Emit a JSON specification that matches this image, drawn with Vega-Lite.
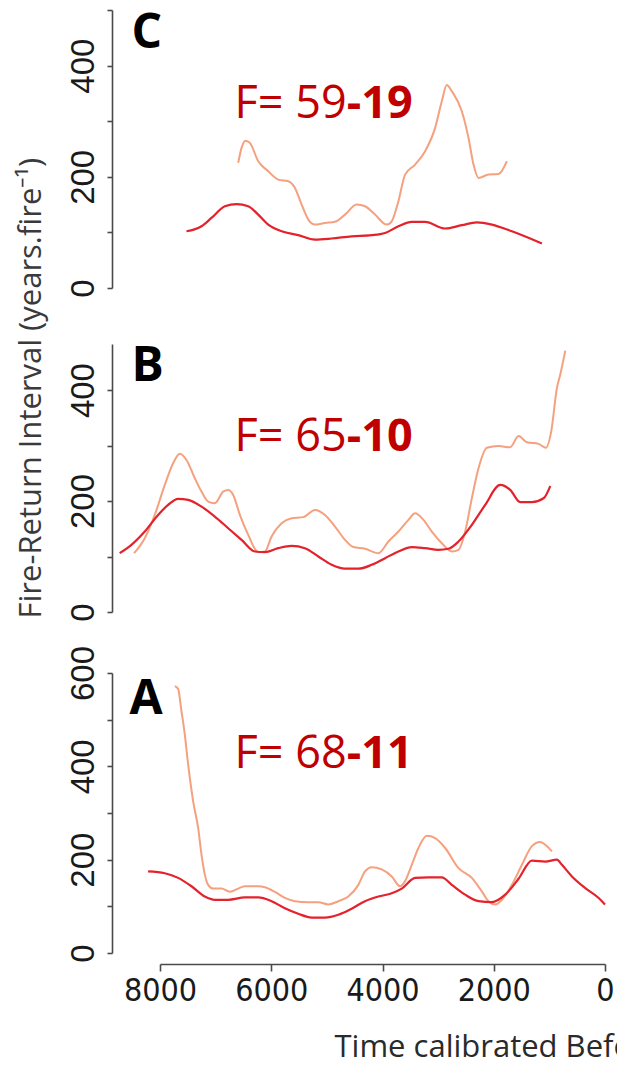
{
  "$schema": "https://vega.github.io/schema/vega-lite/v6.json",
  "background": "white",
  "padding": {"left": 15, "top": 9, "right": 0, "bottom": 0},
  "config": {
    "view": {"stroke": null},
    "axis": {"grid": false, "domainColor": "#4a4a4a", "domainWidth": 1.6, "tickColor": "#4a4a4a", "tickWidth": 1.6, "labelColor": "#1a1a1a", "labelOverlap": false, "labelFlush": false},
    "axisY": {"offset": 48, "tickSize": 5, "labelAngle": 270, "labelAlign": "center", "labelBaseline": "alphabetic", "labelPadding": 14, "labelFont": "Liberation Sans", "labelFontSize": 33, "titleFont": "Open Sans", "titleFontSize": 31, "titleFontWeight": "normal", "titleColor": "#3a3a3a"},
    "axisX": {"offset": 11, "tickSize": 7, "format": "d", "labelFont": "Liberation Sans Narrow, DejaVu Sans Condensed, Liberation Sans", "labelFontSize": 32, "labelPadding": 4, "titleFont": "Open Sans", "titleFontSize": 31, "titleFontWeight": "normal", "titleColor": "#2a2a2a"}
  },
  "datasets": {
    "curves": [
      {"p":"C","s":"mean","year":7524,"fri":102},{"p":"C","s":"mean","year":7254,"fri":111},{"p":"C","s":"mean","year":7074,"fri":126},{"p":"C","s":"mean","year":6834,"fri":147},{"p":"C","s":"mean","year":6624,"fri":151},{"p":"C","s":"mean","year":6414,"fri":147},{"p":"C","s":"mean","year":6234,"fri":132},{"p":"C","s":"mean","year":6054,"fri":114},{"p":"C","s":"mean","year":5814,"fri":102},{"p":"C","s":"mean","year":5514,"fri":95},{"p":"C","s":"mean","year":5214,"fri":87},{"p":"C","s":"mean","year":4914,"fri":89},{"p":"C","s":"mean","year":4554,"fri":93},{"p":"C","s":"mean","year":4194,"fri":95},{"p":"C","s":"mean","year":3954,"fri":99},{"p":"C","s":"mean","year":3714,"fri":111},{"p":"C","s":"mean","year":3474,"fri":119},{"p":"C","s":"mean","year":3234,"fri":119},{"p":"C","s":"mean","year":2874,"fri":107},{"p":"C","s":"mean","year":2574,"fri":113},{"p":"C","s":"mean","year":2304,"fri":118},{"p":"C","s":"mean","year":2034,"fri":114},{"p":"C","s":"mean","year":1674,"fri":102},{"p":"C","s":"mean","year":1134,"fri":80},
      {"p":"C","s":"freq","year":6594,"fri":225},{"p":"C","s":"freq","year":6534,"fri":252},{"p":"C","s":"freq","year":6462,"fri":265},{"p":"C","s":"freq","year":6384,"fri":261},{"p":"C","s":"freq","year":6234,"fri":228},{"p":"C","s":"freq","year":6054,"fri":210},{"p":"C","s":"freq","year":5874,"fri":195},{"p":"C","s":"freq","year":5694,"fri":192},{"p":"C","s":"freq","year":5574,"fri":180},{"p":"C","s":"freq","year":5454,"fri":150},{"p":"C","s":"freq","year":5334,"fri":123},{"p":"C","s":"freq","year":5214,"fri":114},{"p":"C","s":"freq","year":5034,"fri":117},{"p":"C","s":"freq","year":4854,"fri":119},{"p":"C","s":"freq","year":4674,"fri":132},{"p":"C","s":"freq","year":4464,"fri":150},{"p":"C","s":"freq","year":4314,"fri":147},{"p":"C","s":"freq","year":4134,"fri":132},{"p":"C","s":"freq","year":3924,"fri":114},{"p":"C","s":"freq","year":3834,"fri":120},{"p":"C","s":"freq","year":3714,"fri":156},{"p":"C","s":"freq","year":3594,"fri":204},{"p":"C","s":"freq","year":3414,"fri":222},{"p":"C","s":"freq","year":3234,"fri":246},{"p":"C","s":"freq","year":3054,"fri":288},{"p":"C","s":"freq","year":2934,"fri":336},{"p":"C","s":"freq","year":2844,"fri":365},{"p":"C","s":"freq","year":2754,"fri":354},{"p":"C","s":"freq","year":2574,"fri":318},{"p":"C","s":"freq","year":2454,"fri":270},{"p":"C","s":"freq","year":2364,"fri":222},{"p":"C","s":"freq","year":2274,"fri":198},{"p":"C","s":"freq","year":2094,"fri":204},{"p":"C","s":"freq","year":1914,"fri":205},{"p":"C","s":"freq","year":1764,"fri":228},
      {"p":"B","s":"mean","year":8725,"fri":106},{"p":"B","s":"mean","year":8514,"fri":121},{"p":"B","s":"mean","year":8274,"fri":145},{"p":"B","s":"mean","year":8034,"fri":175},{"p":"B","s":"mean","year":7854,"fri":193},{"p":"B","s":"mean","year":7674,"fri":204},{"p":"B","s":"mean","year":7494,"fri":202},{"p":"B","s":"mean","year":7254,"fri":190},{"p":"B","s":"mean","year":7014,"fri":172},{"p":"B","s":"mean","year":6774,"fri":151},{"p":"B","s":"mean","year":6534,"fri":130},{"p":"B","s":"mean","year":6294,"fri":109},{"p":"B","s":"mean","year":6114,"fri":108},{"p":"B","s":"mean","year":5874,"fri":115},{"p":"B","s":"mean","year":5634,"fri":119},{"p":"B","s":"mean","year":5394,"fri":115},{"p":"B","s":"mean","year":5154,"fri":100},{"p":"B","s":"mean","year":4914,"fri":85},{"p":"B","s":"mean","year":4674,"fri":78},{"p":"B","s":"mean","year":4434,"fri":78},{"p":"B","s":"mean","year":4194,"fri":85},{"p":"B","s":"mean","year":3954,"fri":97},{"p":"B","s":"mean","year":3714,"fri":109},{"p":"B","s":"mean","year":3474,"fri":117},{"p":"B","s":"mean","year":3234,"fri":115},{"p":"B","s":"mean","year":2994,"fri":112},{"p":"B","s":"mean","year":2814,"fri":114},{"p":"B","s":"mean","year":2634,"fri":127},{"p":"B","s":"mean","year":2394,"fri":157},{"p":"B","s":"mean","year":2154,"fri":193},{"p":"B","s":"mean","year":1884,"fri":229},{"p":"B","s":"mean","year":1704,"fri":220},{"p":"B","s":"mean","year":1524,"fri":198},{"p":"B","s":"mean","year":1314,"fri":198},{"p":"B","s":"mean","year":1104,"fri":205},{"p":"B","s":"mean","year":984,"fri":227},
      {"p":"B","s":"freq","year":8466,"fri":106},{"p":"B","s":"freq","year":8274,"fri":133},{"p":"B","s":"freq","year":8094,"fri":175},{"p":"B","s":"freq","year":7914,"fri":229},{"p":"B","s":"freq","year":7764,"fri":268},{"p":"B","s":"freq","year":7644,"fri":285},{"p":"B","s":"freq","year":7524,"fri":274},{"p":"B","s":"freq","year":7374,"fri":241},{"p":"B","s":"freq","year":7254,"fri":217},{"p":"B","s":"freq","year":7134,"fri":199},{"p":"B","s":"freq","year":7014,"fri":196},{"p":"B","s":"freq","year":6864,"fri":217},{"p":"B","s":"freq","year":6774,"fri":220},{"p":"B","s":"freq","year":6684,"fri":211},{"p":"B","s":"freq","year":6564,"fri":175},{"p":"B","s":"freq","year":6414,"fri":139},{"p":"B","s":"freq","year":6234,"fri":108},{"p":"B","s":"freq","year":6114,"fri":109},{"p":"B","s":"freq","year":5994,"fri":136},{"p":"B","s":"freq","year":5814,"fri":160},{"p":"B","s":"freq","year":5634,"fri":169},{"p":"B","s":"freq","year":5424,"fri":171},{"p":"B","s":"freq","year":5214,"fri":184},{"p":"B","s":"freq","year":5034,"fri":175},{"p":"B","s":"freq","year":4854,"fri":154},{"p":"B","s":"freq","year":4674,"fri":130},{"p":"B","s":"freq","year":4524,"fri":117},{"p":"B","s":"freq","year":4314,"fri":114},{"p":"B","s":"freq","year":4074,"fri":106},{"p":"B","s":"freq","year":3894,"fri":127},{"p":"B","s":"freq","year":3714,"fri":145},{"p":"B","s":"freq","year":3534,"fri":166},{"p":"B","s":"freq","year":3414,"fri":178},{"p":"B","s":"freq","year":3264,"fri":166},{"p":"B","s":"freq","year":3114,"fri":145},{"p":"B","s":"freq","year":2934,"fri":124},{"p":"B","s":"freq","year":2754,"fri":109},{"p":"B","s":"freq","year":2634,"fri":112},{"p":"B","s":"freq","year":2514,"fri":145},{"p":"B","s":"freq","year":2394,"fri":205},{"p":"B","s":"freq","year":2274,"fri":259},{"p":"B","s":"freq","year":2124,"fri":296},{"p":"B","s":"freq","year":1914,"fri":299},{"p":"B","s":"freq","year":1704,"fri":297},{"p":"B","s":"freq","year":1554,"fri":317},{"p":"B","s":"freq","year":1404,"fri":306},{"p":"B","s":"freq","year":1194,"fri":303},{"p":"B","s":"freq","year":1062,"fri":296},{"p":"B","s":"freq","year":966,"fri":326},{"p":"B","s":"freq","year":864,"fri":404},{"p":"B","s":"freq","year":804,"fri":428},{"p":"B","s":"freq","year":714,"fri":471},
      {"p":"A","s":"mean","year":8214,"fri":175},{"p":"A","s":"mean","year":7914,"fri":171},{"p":"A","s":"mean","year":7674,"fri":161},{"p":"A","s":"mean","year":7434,"fri":143},{"p":"A","s":"mean","year":7194,"fri":121},{"p":"A","s":"mean","year":7014,"fri":114},{"p":"A","s":"mean","year":6774,"fri":114},{"p":"A","s":"mean","year":6474,"fri":119},{"p":"A","s":"mean","year":6234,"fri":119},{"p":"A","s":"mean","year":5994,"fri":111},{"p":"A","s":"mean","year":5754,"fri":96},{"p":"A","s":"mean","year":5514,"fri":84},{"p":"A","s":"mean","year":5274,"fri":76},{"p":"A","s":"mean","year":5034,"fri":76},{"p":"A","s":"mean","year":4794,"fri":82},{"p":"A","s":"mean","year":4554,"fri":95},{"p":"A","s":"mean","year":4314,"fri":111},{"p":"A","s":"mean","year":4074,"fri":121},{"p":"A","s":"mean","year":3834,"fri":128},{"p":"A","s":"mean","year":3654,"fri":138},{"p":"A","s":"mean","year":3414,"fri":161},{"p":"A","s":"mean","year":3174,"fri":162},{"p":"A","s":"mean","year":2934,"fri":162},{"p":"A","s":"mean","year":2754,"fri":146},{"p":"A","s":"mean","year":2514,"fri":125},{"p":"A","s":"mean","year":2274,"fri":111},{"p":"A","s":"mean","year":2034,"fri":109},{"p":"A","s":"mean","year":1794,"fri":125},{"p":"A","s":"mean","year":1554,"fri":159},{"p":"A","s":"mean","year":1314,"fri":198},{"p":"A","s":"mean","year":1074,"fri":196},{"p":"A","s":"mean","year":864,"fri":200},{"p":"A","s":"mean","year":774,"fri":189},{"p":"A","s":"mean","year":594,"fri":164},{"p":"A","s":"mean","year":354,"fri":139},{"p":"A","s":"mean","year":114,"fri":118},{"p":"A","s":"mean","year":0,"fri":104},
      {"p":"A","s":"freq","year":7734,"fri":572},{"p":"A","s":"freq","year":7674,"fri":566},{"p":"A","s":"freq","year":7614,"fri":518},{"p":"A","s":"freq","year":7554,"fri":468},{"p":"A","s":"freq","year":7494,"fri":404},{"p":"A","s":"freq","year":7404,"fri":325},{"p":"A","s":"freq","year":7314,"fri":268},{"p":"A","s":"freq","year":7254,"fri":211},{"p":"A","s":"freq","year":7194,"fri":168},{"p":"A","s":"freq","year":7134,"fri":146},{"p":"A","s":"freq","year":7044,"fri":138},{"p":"A","s":"freq","year":6894,"fri":138},{"p":"A","s":"freq","year":6744,"fri":131},{"p":"A","s":"freq","year":6594,"fri":138},{"p":"A","s":"freq","year":6474,"fri":143},{"p":"A","s":"freq","year":6234,"fri":143},{"p":"A","s":"freq","year":6114,"fri":141},{"p":"A","s":"freq","year":5934,"fri":131},{"p":"A","s":"freq","year":5754,"fri":118},{"p":"A","s":"freq","year":5574,"fri":111},{"p":"A","s":"freq","year":5334,"fri":109},{"p":"A","s":"freq","year":5154,"fri":109},{"p":"A","s":"freq","year":4974,"fri":104},{"p":"A","s":"freq","year":4794,"fri":111},{"p":"A","s":"freq","year":4614,"fri":121},{"p":"A","s":"freq","year":4434,"fri":146},{"p":"A","s":"freq","year":4314,"fri":175},{"p":"A","s":"freq","year":4194,"fri":184},{"p":"A","s":"freq","year":4014,"fri":179},{"p":"A","s":"freq","year":3834,"fri":164},{"p":"A","s":"freq","year":3684,"fri":143},{"p":"A","s":"freq","year":3594,"fri":154},{"p":"A","s":"freq","year":3474,"fri":189},{"p":"A","s":"freq","year":3354,"fri":225},{"p":"A","s":"freq","year":3204,"fri":251},{"p":"A","s":"freq","year":3054,"fri":246},{"p":"A","s":"freq","year":2874,"fri":225},{"p":"A","s":"freq","year":2634,"fri":182},{"p":"A","s":"freq","year":2394,"fri":161},{"p":"A","s":"freq","year":2214,"fri":132},{"p":"A","s":"freq","year":2094,"fri":111},{"p":"A","s":"freq","year":1974,"fri":104},{"p":"A","s":"freq","year":1854,"fri":114},{"p":"A","s":"freq","year":1674,"fri":146},{"p":"A","s":"freq","year":1494,"fri":189},{"p":"A","s":"freq","year":1314,"fri":229},{"p":"A","s":"freq","year":1164,"fri":238},{"p":"A","s":"freq","year":1074,"fri":232},{"p":"A","s":"freq","year":954,"fri":218}
    ],
    "notes": [
      {"p":"C","kind":"letter","year":8514,"fri":432,"text":"C"},
      {"p":"B","kind":"letter","year":8514,"fri":416,"text":"B"},
      {"p":"A","kind":"letter","year":8550,"fri":512,"text":"A"},
      {"p":"C","kind":"fnorm","year":4644,"fri":306,"text":"F= 59"},
      {"p":"B","kind":"fnorm","year":4644,"fri":290,"text":"F= 65"},
      {"p":"A","kind":"fnorm","year":4644,"fri":396,"text":"F= 68"},
      {"p":"C","kind":"fbold","year":4644,"fri":306,"text":"-19"},
      {"p":"B","kind":"fbold","year":4644,"fri":290,"text":"-10"},
      {"p":"A","kind":"fbold","year":4644,"fri":396,"text":"-11"}
    ]
  },
  "spacing": 56,
  "bounds": "flush",
  "vconcat": [
    {
      "width": 445, "height": 278,
      "encoding": {
        "x": {"field": "year", "type": "quantitative", "scale": {"domain": [0, 8000], "reverse": true, "nice": false, "zero": false}, "axis": null},
        "y": {"field": "fri", "type": "quantitative", "scale": {"domain": [0, 500], "nice": false}, "axis": {"values": [0, 100, 200, 300, 400, 500], "labelExpr": "datum.value % 200 === 0 ? datum.label : ''", "title": null}}
      },
      "layer": [
        {"data": {"name": "curves"}, "transform": [{"filter": "datum.p === 'C' && datum.s === 'freq'"}], "mark": {"type": "line", "interpolate": "monotone", "color": "#f5a07e", "strokeWidth": 2}, "encoding": {"order": {"field": "year", "sort": "descending"}}},
        {"data": {"name": "curves"}, "transform": [{"filter": "datum.p === 'C' && datum.s === 'mean'"}], "mark": {"type": "line", "interpolate": "monotone", "color": "#e3222b", "strokeWidth": 2.2}, "encoding": {"order": {"field": "year", "sort": "descending"}}},
        {"data": {"name": "notes"}, "transform": [{"filter": "datum.p === 'C' && datum.kind === 'letter'"}], "mark": {"type": "text", "align": "left", "baseline": "alphabetic", "font": "Open Sans", "fontSize": 48, "fontWeight": "bold", "color": "#000"}, "encoding": {"text": {"field": "text"}}},
        {"data": {"name": "notes"}, "transform": [{"filter": "datum.p === 'C' && datum.kind === 'fnorm'"}], "mark": {"type": "text", "align": "right", "baseline": "alphabetic", "font": "Open Sans", "fontSize": 45, "color": "#c00000"}, "encoding": {"text": {"field": "text"}}},
        {"data": {"name": "notes"}, "transform": [{"filter": "datum.p === 'C' && datum.kind === 'fbold'"}], "mark": {"type": "text", "align": "left", "baseline": "alphabetic", "font": "Open Sans", "fontSize": 45, "fontWeight": "bold", "color": "#c00000"}, "encoding": {"text": {"field": "text"}}}
      ]
    },
    {
      "spacing": 61,
      "bounds": "flush",
      "vconcat": [
        {
          "width": 445, "height": 268,
          "encoding": {
            "x": {"field": "year", "type": "quantitative", "scale": {"domain": [0, 8000], "reverse": true, "nice": false, "zero": false}, "axis": null},
            "y": {"field": "fri", "type": "quantitative", "scale": {"domain": [0, 483], "nice": false}, "axis": {"values": [0, 100, 200, 300, 400], "labelExpr": "datum.value % 200 === 0 ? datum.label : ''", "title": "Fire-Return Interval (years.fire⁻¹)", "titleY": 274, "titleAlign": "left", "titleBaseline": "alphabetic", "titlePadding": 27}}
          },
          "layer": [
            {"data": {"name": "curves"}, "transform": [{"filter": "datum.p === 'B' && datum.s === 'freq'"}], "mark": {"type": "line", "interpolate": "monotone", "color": "#f5a07e", "strokeWidth": 2}, "encoding": {"order": {"field": "year", "sort": "descending"}}},
            {"data": {"name": "curves"}, "transform": [{"filter": "datum.p === 'B' && datum.s === 'mean'"}], "mark": {"type": "line", "interpolate": "monotone", "color": "#e3222b", "strokeWidth": 2.2}, "encoding": {"order": {"field": "year", "sort": "descending"}}},
            {"data": {"name": "notes"}, "transform": [{"filter": "datum.p === 'B' && datum.kind === 'letter'"}], "mark": {"type": "text", "align": "left", "baseline": "alphabetic", "font": "Open Sans", "fontSize": 48, "fontWeight": "bold", "color": "#000"}, "encoding": {"text": {"field": "text"}}},
            {"data": {"name": "notes"}, "transform": [{"filter": "datum.p === 'B' && datum.kind === 'fnorm'"}], "mark": {"type": "text", "align": "right", "baseline": "alphabetic", "font": "Open Sans", "fontSize": 45, "color": "#c00000"}, "encoding": {"text": {"field": "text"}}},
            {"data": {"name": "notes"}, "transform": [{"filter": "datum.p === 'B' && datum.kind === 'fbold'"}], "mark": {"type": "text", "align": "left", "baseline": "alphabetic", "font": "Open Sans", "fontSize": 45, "fontWeight": "bold", "color": "#c00000"}, "encoding": {"text": {"field": "text"}}}
          ]
        },
        {
          "width": 445, "height": 280,
          "encoding": {
            "x": {"field": "year", "type": "quantitative", "scale": {"domain": [0, 8000], "reverse": true, "nice": false, "zero": false}, "axis": {"values": [0, 2000, 4000, 6000, 8000], "title": "Time calibrated Before Present (years)", "titleX": 174, "titleAlign": "left", "titleBaseline": "alphabetic", "titlePadding": 50}},
            "y": {"field": "fri", "type": "quantitative", "scale": {"domain": [0, 600], "nice": false}, "axis": {"values": [0, 100, 200, 300, 400, 500, 600], "labelExpr": "datum.value % 200 === 0 ? datum.label : ''", "title": null}}
          },
          "layer": [
            {"data": {"name": "curves"}, "transform": [{"filter": "datum.p === 'A' && datum.s === 'freq'"}], "mark": {"type": "line", "interpolate": "monotone", "color": "#f5a07e", "strokeWidth": 2}, "encoding": {"order": {"field": "year", "sort": "descending"}}},
            {"data": {"name": "curves"}, "transform": [{"filter": "datum.p === 'A' && datum.s === 'mean'"}], "mark": {"type": "line", "interpolate": "monotone", "color": "#e3222b", "strokeWidth": 2.2}, "encoding": {"order": {"field": "year", "sort": "descending"}}},
            {"data": {"name": "notes"}, "transform": [{"filter": "datum.p === 'A' && datum.kind === 'letter'"}], "mark": {"type": "text", "align": "left", "baseline": "alphabetic", "font": "Open Sans", "fontSize": 48, "fontWeight": "bold", "color": "#000"}, "encoding": {"text": {"field": "text"}}},
            {"data": {"name": "notes"}, "transform": [{"filter": "datum.p === 'A' && datum.kind === 'fnorm'"}], "mark": {"type": "text", "align": "right", "baseline": "alphabetic", "font": "Open Sans", "fontSize": 45, "color": "#c00000"}, "encoding": {"text": {"field": "text"}}},
            {"data": {"name": "notes"}, "transform": [{"filter": "datum.p === 'A' && datum.kind === 'fbold'"}], "mark": {"type": "text", "align": "left", "baseline": "alphabetic", "font": "Open Sans", "fontSize": 45, "fontWeight": "bold", "color": "#c00000"}, "encoding": {"text": {"field": "text"}}}
          ]
        }
      ]
    }
  ]
}
